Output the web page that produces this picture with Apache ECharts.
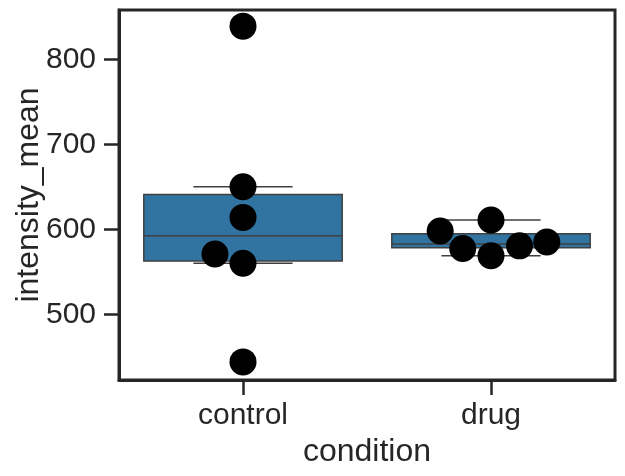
<!DOCTYPE html>
<html>
<head>
<meta charset="utf-8">
<script src="https://cdn.jsdelivr.net/npm/echarts@6/dist/echarts.min.js"></script>
<style>html,body{margin:0;padding:0;background:#fff;}#c{width:625px;height:476px;}</style>
</head>
<body>
<div id="c"></div>
<script>
// ---- data ----
const categories = ['control', 'drug'];
const controlValues = [839, 650, 614, 571, 560, 444];
const controlOffsets = [0, 0, 0, -0.113, 0, 0];
const drugValues = [598, 611, 577.5, 569, 580.5, 585];
const drugOffsets = [-0.205, 0, -0.114, 0, 0.115, 0.225];
const yTicks = [500, 600, 700, 800];
const yMin = 422.7, yMax = 858;

// ---- stats (numpy-style linear percentiles, 1.5 IQR whiskers) ----
function pct(sorted, p) {
  const pos = (sorted.length - 1) * p;
  const lo = Math.floor(pos), hi = Math.ceil(pos);
  return sorted[lo] + (sorted[hi] - sorted[lo]) * (pos - lo);
}
function boxStats(vals) {
  const s = vals.slice().sort((a, b) => a - b);
  const q1 = pct(s, 0.25), med = pct(s, 0.5), q3 = pct(s, 0.75);
  const iqr = q3 - q1;
  const lo = s.filter(v => v >= q1 - 1.5 * iqr)[0];
  const inr = s.filter(v => v <= q3 + 1.5 * iqr);
  const hi = inr[inr.length - 1];
  return [lo, q1, med, q3, hi];
}
const groups = [controlValues, drugValues];
const offsets = [controlOffsets, drugOffsets];
const boxData = groups.map((g, i) => [i].concat(boxStats(g)));
const pointData = [];
groups.forEach((g, i) => g.forEach((v, j) => pointData.push([i + offsets[i][j], v])));

const ink = '#262626';
const edge = '#3f3f3f';
const font = '"Liberation Sans", Arial, sans-serif';

const chart = echarts.init(document.getElementById('c'), null, {renderer: 'canvas'});
chart.setOption({
  animation: false,
  backgroundColor: '#ffffff',
  grid: {left: 119, right: 10, top: 10, bottom: 96, containLabel: false, outerBoundsMode: 'none',
         show: true, borderColor: ink, borderWidth: 3, backgroundColor: 'transparent'},
  xAxis: [{
    type: 'category', data: categories, boundaryGap: true,
    axisLine: {show: true, onZero: false, lineStyle: {color: ink, width: 3}},
    axisTick: {show: true, alignWithLabel: true, length: 15, lineStyle: {color: ink, width: 2.5}},
    axisLabel: {color: ink, fontSize: 30, fontFamily: font, margin: 21},
    name: 'condition', nameLocation: 'middle', nameGap: 56, nameMoveOverlap: false,
    nameTextStyle: {color: ink, fontSize: 32, fontFamily: font},
    splitLine: {show: false}
  }, {
    type: 'value', min: -0.5, max: 1.5, show: false,
    axisLine: {show: false, onZero: false}, axisTick: {show: false}, axisLabel: {show: false}, splitLine: {show: false}
  }],
  yAxis: {
    type: 'value', min: yMin, max: yMax,
    axisLine: {show: true, onZero: false, lineStyle: {color: ink, width: 3}},
    axisTick: {show: true, length: 15, customValues: yTicks, lineStyle: {color: ink, width: 2.5}},
    axisLabel: {color: ink, fontSize: 30, fontFamily: font, margin: 23, customValues: yTicks},
    splitLine: {show: false},
    name: 'intensity_mean', nameLocation: 'middle', nameGap: 74, nameRotate: 90, nameMoveOverlap: false,
    nameTextStyle: {color: ink, fontSize: 32, fontFamily: font}
  },
  series: [{
    type: 'custom',
    xAxisIndex: 0,
    z: 2,
    data: boxData,
    encode: {x: 0, y: [1, 2, 3, 4, 5]},
    renderItem: function (params, api) {
      const c = api.value(0);
      const lo = api.coord([c, api.value(1)]);
      const q1 = api.coord([c, api.value(2)]);
      const md = api.coord([c, api.value(3)]);
      const q3 = api.coord([c, api.value(4)]);
      const hi = api.coord([c, api.value(5)]);
      const band = api.size([1, 0])[0];
      const hw = band * 0.4, cw = band * 0.2;
      const x = lo[0];
      const ls = {stroke: edge, lineWidth: 1.5, fill: null};
      return {
        type: 'group',
        children: [
          {type: 'line', shape: {x1: x, y1: q3[1], x2: x, y2: hi[1]}, style: ls},
          {type: 'line', shape: {x1: x, y1: q1[1], x2: x, y2: lo[1]}, style: ls},
          {type: 'line', shape: {x1: x - cw, y1: hi[1], x2: x + cw, y2: hi[1]}, style: ls},
          {type: 'line', shape: {x1: x - cw, y1: lo[1], x2: x + cw, y2: lo[1]}, style: ls},
          {type: 'rect', shape: {x: x - hw, y: q3[1], width: 2 * hw, height: q1[1] - q3[1]}, style: {fill: '#3274a1', stroke: edge, lineWidth: 1.5}},
          {type: 'line', shape: {x1: x - hw, y1: md[1], x2: x + hw, y2: md[1]}, style: ls}
        ]
      };
    }
  }, {
    type: 'scatter',
    xAxisIndex: 1,
    z: 5,
    symbol: 'circle',
    symbolSize: 27,
    itemStyle: {color: '#000000', opacity: 1},
    data: pointData
  }]
});
</script>
</body>
</html>
